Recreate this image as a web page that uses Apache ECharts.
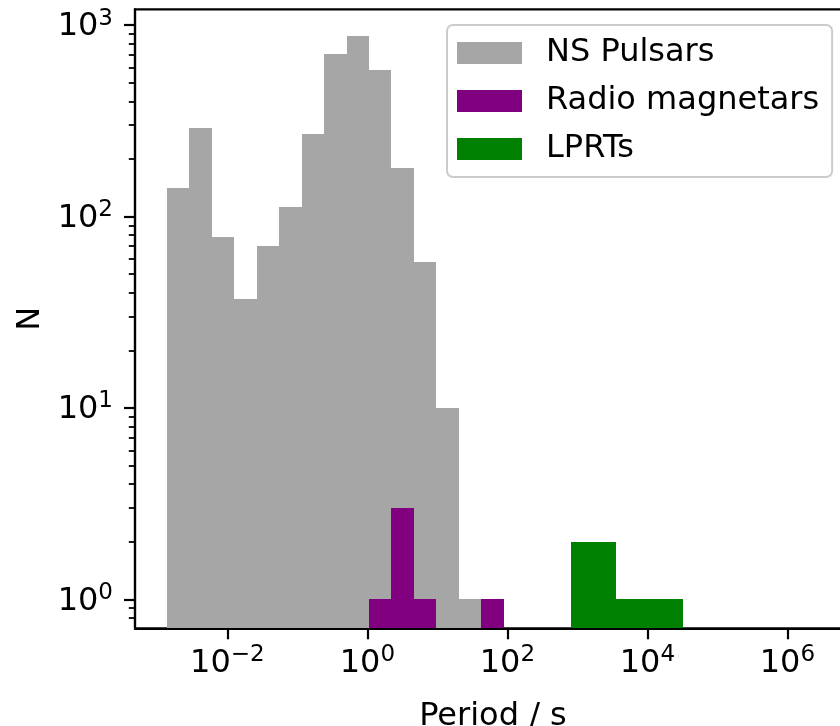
<!DOCTYPE html>
<html>
<head>
<meta charset="utf-8">
<script src="https://cdn.jsdelivr.net/npm/echarts@6/dist/echarts.min.js"></script>
<style>
  html, body { margin: 0; padding: 0; background: #ffffff; }
  #chart { width: 840px; height: 726px; }
</style>
</head>
<body>
<div id="chart"></div>
<script>
// Shared logarithmic bin edges (seconds)
const binEdges = [0.001371, 0.002871, 0.006000, 0.01256, 0.02630, 0.05495, 0.1151,
  0.2410, 0.5035, 1.054, 2.208, 4.613, 9.66, 20.23, 42.36, 88.72, 185.4,
  388.1, 812.8, 1698, 3556, 7447, 15560, 32580];

// Counts per bin for each population
const nsPulsars      = [141, 291, 78, 37, 70, 112, 269, 706, 874, 580, 180, 58, 10, 1, 0, 0, 0, 0, 0, 0, 0, 0, 0];
const radioMagnetars = [0, 0, 0, 0, 0, 0, 0, 0, 0, 1, 3, 1, 0, 0, 1, 0, 0, 0, 0, 0, 0, 0, 0];
const lprts          = [0, 0, 0, 0, 0, 0, 0, 0, 0, 0, 0, 0, 0, 0, 0, 0, 0, 0, 2, 2, 1, 1, 1];

const seriesNames  = ['NS Pulsars', 'Radio magnetars', 'LPRTs'];
const seriesColors = ['#a6a6a6', '#800080', '#008000'];

// Axis ticks (powers of ten)
const xTickExponents = [-2, 0, 2, 4, 6];
const yTickExponents = [0, 1, 2, 3];

// Visible extent of both axes, in log10 units
const X_MIN = -3.320, X_MAX = 6.909;
const Y_MIN = -0.1515, Y_MAX = 3.0825;

const FONT = 'DejaVu Sans';

// y minor ticks at 2..9 x 10^n inside the visible range
const yMinorTicks = [];
for (let n = -1; n <= 3; n++) {
  for (let k = 2; k <= 9; k++) {
    const v = n + Math.log10(k);
    if (v > Y_MIN && v < Y_MAX) yMinorTicks.push(v);
  }
}

function toBars(counts) {
  const out = [];
  counts.forEach((c, i) => {
    if (c > 0) out.push([Math.log10(binEdges[i]), Math.log10(binEdges[i + 1]), Math.log10(c)]);
  });
  return out;
}

// One rectangle per bin, snapped to whole pixels so neighbouring bins join cleanly
function histBar(params, api) {
  const p0 = api.coord([api.value(0), Y_MIN]);
  const p1 = api.coord([api.value(1), api.value(2)]);
  const x0 = Math.round(p0[0]), x1 = Math.round(p1[0]);
  const yTop = Math.round(p1[1]), yBase = Math.round(p0[1]);
  return {
    type: 'rect',
    shape: { x: x0, y: yTop, width: x1 - x0, height: yBase - yTop },
    style: { fill: api.visual('color') }
  };
}

function powerLabel(v) {
  const e = Math.round(v);
  const s = e < 0 ? '\u2212' + Math.abs(e) : String(e);
  return '{b|10}{s|' + s + '}';
}

const labelRich = {
  b: { fontFamily: FONT, fontSize: 32, lineHeight: 36, verticalAlign: 'bottom', color: '#000' },
  s: { fontFamily: FONT, fontSize: 23, lineHeight: 23, verticalAlign: 'top', color: '#000' }
};

const chart = echarts.init(document.getElementById('chart'), null, { renderer: 'canvas' });

const allCounts = [nsPulsars, radioMagnetars, lprts];

chart.setOption({
  animation: false,
  backgroundColor: '#ffffff',
  grid: {
    left: 135, top: 9.3, width: 716, height: 619,
    outerBoundsMode: 'none',
    show: true, borderColor: '#000', borderWidth: 2.2, backgroundColor: 'transparent'
  },
  legend: {
    orient: 'vertical', left: 447, top: 25,
    data: seriesNames, icon: 'rect',
    itemWidth: 65, itemHeight: 22, itemGap: 12,
    padding: [10, 13, 10, 10],
    backgroundColor: 'rgba(255,255,255,0.8)',
    borderColor: '#cccccc', borderWidth: 2, borderRadius: 6,
    selectedMode: false,
    textStyle: { fontFamily: FONT, fontSize: 32, lineHeight: 36, color: '#000', padding: [0, 0, 0, 19] }
  },
  xAxis: {
    type: 'value', min: X_MIN, max: X_MAX, z: 10,
    name: 'Period / s', nameLocation: 'middle', nameGap: 72,
    nameTextStyle: { fontFamily: FONT, fontSize: 32, color: '#000' },
    axisLine: { onZero: false, lineStyle: { color: '#000', width: 2.2 } },
    axisTick: { customValues: xTickExponents, length: 11, lineStyle: { color: '#000', width: 2.2 } },
    axisLabel: { customValues: xTickExponents, margin: 15, formatter: powerLabel, rich: labelRich },
    splitLine: { show: false }
  },
  yAxis: [{
    type: 'value', min: Y_MIN, max: Y_MAX, z: 10, position: 'left',
    name: 'N', nameLocation: 'middle', nameGap: 88, nameRotate: 90,
    nameTextStyle: { fontFamily: FONT, fontSize: 32, color: '#000' },
    axisLine: { onZero: false, lineStyle: { color: '#000', width: 2.2 } },
    axisTick: { customValues: yTickExponents, length: 11, lineStyle: { color: '#000', width: 2.2 } },
    axisLabel: { customValues: yTickExponents, margin: 22, formatter: powerLabel, rich: labelRich },
    splitLine: { show: false }
  }, {
    type: 'value', min: Y_MIN, max: Y_MAX, z: 10, position: 'left', offset: 0,
    axisLine: { show: false, onZero: false },
    axisTick: { customValues: yMinorTicks, length: 6.2, lineStyle: { color: '#000', width: 1.8 } },
    axisLabel: { show: false },
    splitLine: { show: false }
  }],
  series: seriesNames.map((name, i) => ({
    name: name,
    type: 'custom',
    clip: true,
    itemStyle: { color: seriesColors[i] },
    encode: { x: [0, 1], y: 2 },
    renderItem: histBar,
    data: toBars(allCounts[i]),
    z: 2 + i
  }))
});
</script>
</body>
</html>
